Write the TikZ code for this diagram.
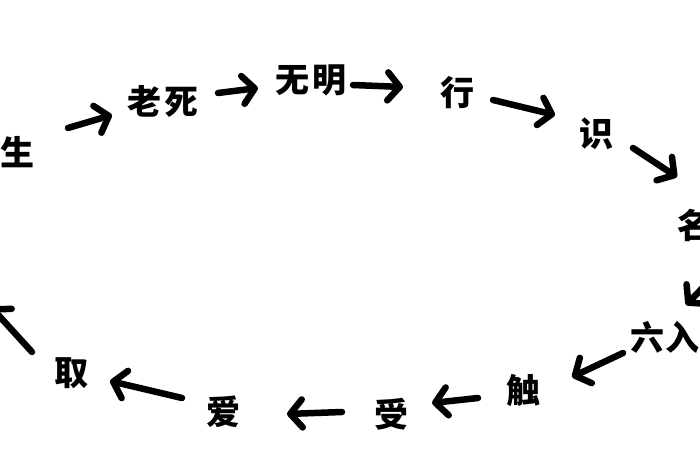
\documentclass[tikz,border=0pt]{standalone}
\usepackage{fontspec}
\newfontfamily\cjk{Noto Sans CJK SC}
\usetikzlibrary{arrows.meta,calc}
\begin{document}
\begin{tikzpicture}[x=1pt,y=-1pt,
  word/.style={inner sep=0pt,font=\cjk\bfseries\fontsize{34}{38}\selectfont},
  arr/.style={line width=6.5pt,line cap=round,line join=round,
    -{Straight Barb[round,length=12pt,width=28pt]}}]
\path[use as bounding box,clip] (0,0) rectangle (700,470);
\fill[white] (0,0) rectangle (700,470);
\node[word] (sheng)  at (17,152) {生};
\node[word] (laosi)  at (163,101) {老\hspace{4pt}死};
\node[word] (wuming) at (311,80) {无\hspace{4pt}明};
\node[word] (xing)   at (457,93) {行};
\node[word] (shi)    at (596,134) {识};
\node[word,anchor=west] (mingse) at (677,225) {名};
\node[word] (liuru)  at (665,337) {六\hspace{2pt}入};
\node[word] (chu)    at (523,391) {触};
\node[word] (shou)   at (391,414) {受};
\node[word] (ai)     at (223,412) {爱};
\node[word] (qu)     at (71,373) {取};
\coordinate (youend) at (-9,307);
\draw[arr] ($(sheng)+(51,-24)$) -- ($(laosi)+(-51,14)$);
\draw[arr] ($(laosi)+(55,-8)$) -- ($(wuming)+(-53,8)$);
\draw[arr] ($(wuming)+(42,5)$) -- ($(xing)+(-54,-6)$);
\draw[arr] ($(xing)+(36,7)$) -- ($(shi)+(-41,-19)$);
\draw[arr] ($(shi)+(37,14)$) -- ($(mingse.west)+(0,-48)$);
\draw[arr] ($(mingse.west)+(41,47)$) -- ($(liuru)+(21,-32)$);
\draw[arr] ($(liuru)+(-42,16)$) -- ($(chu)+(49,-14)$);
\draw[arr] ($(chu)+(-45,7)$) -- ($(shou)+(41,-11)$);
\draw[arr] ($(shou)+(-49,-2)$) -- ($(ai)+(64,2)$);
\draw[arr] ($(ai)+(-41,-14)$) -- ($(qu)+(39,8)$);
\draw[arr] ($(qu)+(-39,-21)$) -- (youend);
\end{tikzpicture}
\end{document}
